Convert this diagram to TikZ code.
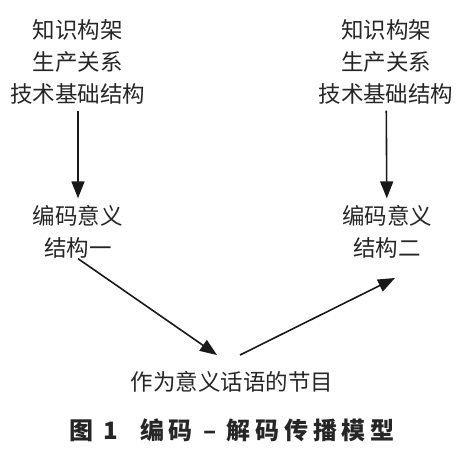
\documentclass[tikz,border=0pt]{standalone}
\usepackage{fontspec}
\usepackage{tikz}
\usetikzlibrary{arrows.meta,positioning}
\newfontfamily\cjk{Noto Sans CJK SC}
\newfontfamily\cjkcap[LetterSpace=20]{Noto Sans CJK SC}

\begin{document}
\begin{tikzpicture}[x=1pt,y=-1pt, every node/.style={font=\cjk\fontsize{22.5}{32}\selectfont,text=black!85},
  txt/.style={align=center,inner sep=0pt},
  arr/.style={-{Triangle[length=17pt,width=13pt]},line width=1.6pt,black!90}]
  \useasboundingbox (0,0) rectangle (467,461);
  \node[txt] (kf1) at (78,62) {知识构架\\生产关系\\技术基础结构};
  \node[txt] (kf2) at (386,62) {知识构架\\生产关系\\技术基础结构};
  \node[txt] (bm1) at (78,232) {编码意义\\结构一};
  \node[txt] (bm2) at (387,232) {编码意义\\结构二};
  \node[txt] (jm) at (232,382) {作为意义话语的节目};
  \coordinate (jmin) at (217,355);
  \coordinate (jmout) at (240,355);
  \coordinate (bm2in) at (395,278);
  \draw[arr,shorten <=6pt,shorten >=7pt](kf1)--(bm1);
  \draw[arr,shorten <=6pt,shorten >=7pt](kf2)--(bm2);
  \draw[arr](bm1.south)--(jmin);
  \draw[arr](jmout)--(bm2in);

  \node[inner sep=0pt,font=\cjkcap\bfseries\fontsize{24}{28}\selectfont] (cap) at (232,430)
    {图 1\hspace{22pt}编码 – 解码传播模型};
\end{tikzpicture}
\end{document}
